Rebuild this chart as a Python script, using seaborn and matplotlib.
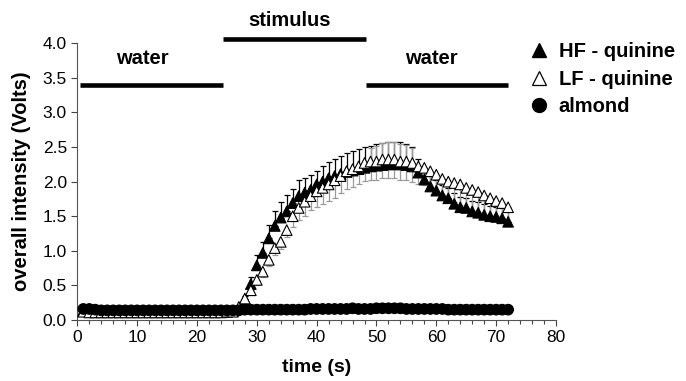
import numpy as np
import pandas as pd
import matplotlib
matplotlib.use('Agg')
import matplotlib.pyplot as plt
from matplotlib.lines import Line2D
import seaborn as sns

# ============================
# Data
# ============================
time_s = list(range(1, 73))

hf_quinine = [0.14, 0.13, 0.13, 0.12, 0.12, 0.12, 0.12, 0.12, 0.12, 0.12,
              0.12, 0.12, 0.12, 0.12, 0.12, 0.12, 0.12, 0.12, 0.12, 0.12,
              0.12, 0.12, 0.12, 0.12, 0.12, 0.13, 0.17, 0.30, 0.52, 0.79,
              0.97, 1.18, 1.36, 1.48, 1.57, 1.69, 1.79, 1.84, 1.88, 1.96,
              2.00, 2.05, 2.08, 2.11, 2.14, 2.16, 2.18, 2.20, 2.22, 2.23,
              2.24, 2.25, 2.25, 2.25, 2.24, 2.22, 2.13, 2.03, 1.93, 1.87,
              1.80, 1.76, 1.68, 1.63, 1.62, 1.57, 1.55, 1.52, 1.50, 1.49,
              1.47, 1.42]

lf_quinine = [0.12, 0.11, 0.11, 0.11, 0.11, 0.11, 0.11, 0.11, 0.11, 0.11,
              0.11, 0.11, 0.11, 0.11, 0.11, 0.11, 0.11, 0.11, 0.11, 0.11,
              0.11, 0.11, 0.11, 0.11, 0.12, 0.12, 0.19, 0.31, 0.43, 0.58,
              0.70, 0.87, 1.04, 1.13, 1.30, 1.50, 1.62, 1.71, 1.79, 1.86,
              1.91, 1.96, 2.02, 2.08, 2.15, 2.18, 2.22, 2.27, 2.29, 2.29,
              2.32, 2.32, 2.32, 2.29, 2.29, 2.27, 2.22, 2.20, 2.15, 2.10,
              2.04, 2.00, 1.98, 1.96, 1.91, 1.88, 1.85, 1.80, 1.76, 1.72,
              1.69, 1.63]

almond = [0.16, 0.16, 0.15, 0.14, 0.14, 0.14, 0.14, 0.14, 0.14, 0.14,
          0.14, 0.14, 0.14, 0.14, 0.14, 0.14, 0.14, 0.14, 0.14, 0.14,
          0.14, 0.14, 0.14, 0.14, 0.14, 0.14, 0.14, 0.15, 0.15, 0.15,
          0.15, 0.15, 0.15, 0.15, 0.15, 0.15, 0.15, 0.15, 0.16, 0.16,
          0.16, 0.16, 0.16, 0.16, 0.16, 0.17, 0.16, 0.16, 0.16, 0.17,
          0.17, 0.17, 0.17, 0.17, 0.16, 0.16, 0.16, 0.16, 0.16, 0.16,
          0.16, 0.15, 0.15, 0.15, 0.15, 0.15, 0.15, 0.15, 0.15, 0.15,
          0.15, 0.15]

# error bars (HF drawn upward, LF mostly downward)
hf_err_up = [0.02] * 27 + [0.05, 0.10, 0.15, 0.16, 0.19, 0.21, 0.23, 0.23, 0.21,
                           0.23, 0.22, 0.22, 0.20, 0.22, 0.24, 0.25, 0.26, 0.27, 0.28,
                           0.29, 0.30, 0.30, 0.31, 0.32, 0.33, 0.33, 0.32, 0.30, 0.28,
                           0.20, 0.15, 0.15, 0.15, 0.15, 0.15, 0.15, 0.15, 0.15, 0.15,
                           0.15, 0.15, 0.15, 0.15, 0.15, 0.15]
lf_err_down = [0.02] * 27 + [0.04, 0.06, 0.07, 0.08, 0.09, 0.10, 0.10, 0.10, 0.15,
                             0.17, 0.20, 0.20, 0.22, 0.23, 0.24, 0.25, 0.25, 0.25, 0.25,
                             0.26, 0.26, 0.26, 0.27, 0.27, 0.27, 0.27, 0.27, 0.27, 0.27,
                             0.25, 0.25, 0.24, 0.23, 0.24, 0.25, 0.28, 0.30, 0.30, 0.31,
                             0.30, 0.29, 0.27, 0.25, 0.25, 0.25]
lf_err_up = [0.0] * 48 + [0.20, 0.22, 0.24, 0.26, 0.26, 0.25, 0.24, 0.22] + [0.0] * 16

series_names = ['HF - quinine', 'LF - quinine', 'almond']

df = pd.DataFrame({
    'time': time_s * 3,
    'intensity': hf_quinine + lf_quinine + almond,
    'series': [series_names[0]] * 72 + [series_names[1]] * 72 + [series_names[2]] * 72,
})

# ============================
# Plot
# ============================
sns.set_style('ticks')
plt.rcParams['font.family'] = ['Liberation Sans', 'DejaVu Sans']
plt.rcParams['text.color'] = 'black'
plt.rcParams['axes.labelcolor'] = 'black'
plt.rcParams['xtick.labelcolor'] = 'black'
plt.rcParams['ytick.labelcolor'] = 'black'

fig = plt.figure(figsize=(6.86, 3.81), dpi=100)
ax = fig.add_axes([0.1127, 0.160, 0.6978, 0.7264])

ax.errorbar(time_s, hf_quinine, yerr=[[0] * 72, hf_err_up], fmt='none',
            ecolor='black', elinewidth=0.9, capsize=2.0, capthick=0.9, zorder=1)
ax.errorbar(time_s, lf_quinine, yerr=[lf_err_down, lf_err_up], fmt='none',
            ecolor='#9a9a9a', elinewidth=0.9, capsize=2.0, capthick=0.9, zorder=1)

sns.scatterplot(data=df, x='time', y='intensity', hue='series', style='series',
                palette={'HF - quinine': 'black', 'LF - quinine': 'white', 'almond': 'black'},
                markers={'HF - quinine': '^', 'LF - quinine': '^', 'almond': 'o'},
                edgecolor='black', linewidth=0.8, s=58, legend=False, ax=ax, zorder=3)

ax.set_xlim(0, 80)
ax.set_ylim(0, 4.0)
ax.set_xticks(range(0, 81, 10))
ax.set_xticks(range(0, 81, 2), minor=True)
ax.set_yticks(np.arange(0, 4.01, 0.5))
ax.set_yticklabels([f'{v:.1f}' for v in np.arange(0, 4.01, 0.5)])
ax.tick_params(axis='both', which='major', labelsize=12.5, length=4, width=0.8,
               color='#444444', labelcolor='black', direction='out')
ax.tick_params(axis='x', which='minor', length=3, width=0.8, color='#444444')
for side in ['left', 'bottom']:
    ax.spines[side].set_color('#555555')
    ax.spines[side].set_linewidth(0.8)
sns.despine(ax=ax)

ax.set_xlabel('time (s)', fontsize=14, fontweight='bold', labelpad=10, color='black')
ax.set_ylabel('overall intensity (Volts)', fontsize=14.5, fontweight='bold', labelpad=8,
              color='black')

# stimulus / water bars
ax.plot([0.45, 24.3], [3.40, 3.40], color='black', lw=3.3, solid_capstyle='butt', clip_on=False)
ax.plot([24.3, 48.2], [4.06, 4.06], color='black', lw=3.3, solid_capstyle='butt', clip_on=False)
ax.plot([48.2, 71.9], [3.40, 3.40], color='black', lw=3.3, solid_capstyle='butt', clip_on=False)
ax.text(10.8, 3.78, 'water', ha='center', va='center', fontsize=14.5, fontweight='bold',
        color='black')
ax.text(35.4, 4.33, 'stimulus', ha='center', va='center', fontsize=14.5,
        fontweight='bold', clip_on=False, color='black')
ax.text(59.2, 3.78, 'water', ha='center', va='center', fontsize=14.5, fontweight='bold',
        color='black')

# legend
handles = [
    Line2D([], [], ls='none', marker='^', ms=10, mfc='black', mec='black'),
    Line2D([], [], ls='none', marker='^', ms=10, mfc='white', mec='black', mew=0.9),
    Line2D([], [], ls='none', marker='o', ms=10, mfc='black', mec='black'),
]
fig.legend(handles, series_names, loc='upper left', bbox_to_anchor=(0.772, 0.889),
           frameon=False, prop={'weight': 'bold', 'size': 14.5}, labelcolor='black',
           handlelength=0.95, handletextpad=0.5, labelspacing=0.42,
           borderpad=0, borderaxespad=0)

plt.savefig('out.png', dpi=100)
